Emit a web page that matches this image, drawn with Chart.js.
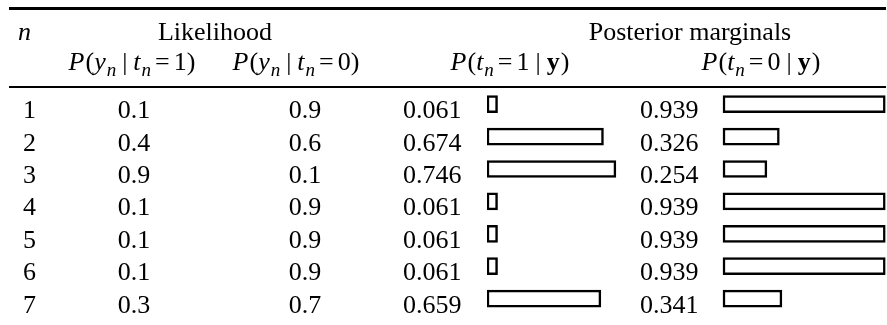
<!DOCTYPE html>
<html>
<head>
<meta charset="utf-8">
<script src="https://cdn.jsdelivr.net/npm/chart.js@4.4.1/dist/chart.umd.min.js"></script>
<style>
  html, body { margin: 0; padding: 0; background: #fff; }
  canvas { display: block; }
</style>
</head>
<body>
<canvas id="chart" width="887" height="325"></canvas>
<script>
// table data
const rows = ['1', '2', '3', '4', '5', '6', '7']
const likeT1 = [0.1, 0.4, 0.9, 0.1, 0.1, 0.1, 0.3]
const likeT0 = [0.9, 0.6, 0.1, 0.9, 0.9, 0.9, 0.7]
const postT1 = [0.061, 0.674, 0.746, 0.061, 0.061, 0.061, 0.659]
const postT0 = [0.939, 0.326, 0.254, 0.939, 0.939, 0.939, 0.341]

// layout
const W = 887
const PX = 172.8            // pixels per unit of probability
const barLeft1 = 487
const barLeft2 = 723
const FONT = '"Liberation Serif", "Times New Roman", serif'
const SIZE = 26
const SUB = 19

function font(style, size) {
  if (style === 'i') return `italic ${size}px ${FONT}`
  if (style === 'b') return `bold ${size}px ${FONT}`
  return `${size}px ${FONT}`
}

// a run of text pieces: {t, f: 'r'|'i'|'b', sub} or {g: gap}
function runWidth(ctx, parts) {
  let w = 0
  parts.forEach(p => {
    if (p.g) { w += p.g; return }
    ctx.font = font(p.f, p.sub ? SUB : SIZE)
    w += ctx.measureText(p.t).width
  })
  return w
}

function drawRun(ctx, parts, x, y, align) {
  let cx = align === 'center' ? x - runWidth(ctx, parts) / 2 : x
  ctx.textAlign = 'left'
  parts.forEach(p => {
    if (p.g) { cx += p.g; return }
    ctx.font = font(p.f, p.sub ? SUB : SIZE)
    ctx.fillText(p.t, cx, p.sub ? y + 6 : y)
    cx += ctx.measureText(p.t).width
  })
}

const likeHead = (v) => [
  { t: 'P', f: 'i' }, { g: 1 }, { t: '(', f: 'r' }, { t: 'y', f: 'i' }, { g: 1 }, { t: 'n', f: 'i', sub: true },
  { g: 6 }, { t: '|', f: 'r' }, { g: 6 },
  { t: 't', f: 'i' }, { g: 1 }, { t: 'n', f: 'i', sub: true }, { g: 4 }, { t: '=', f: 'r' }, { g: 4 },
  { t: v, f: 'r' }, { t: ')', f: 'r' }
]
const postHead = (v) => [
  { t: 'P', f: 'i' }, { g: 1 }, { t: '(', f: 'r' }, { t: 't', f: 'i' }, { g: 1 }, { t: 'n', f: 'i', sub: true },
  { g: 4 }, { t: '=', f: 'r' }, { g: 4 }, { t: v, f: 'r' },
  { g: 6 }, { t: '|', f: 'r' }, { g: 6 }, { t: 'y', f: 'b' }, { g: 1 }, { t: ')', f: 'r' }
]

const tablePlugin = {
  id: 'table',
  afterDraw(chart) {
    const ctx = chart.ctx
    const y = chart.scales.y
    ctx.save()
    ctx.fillStyle = '#000'
    ctx.textBaseline = 'alphabetic'

    // rules
    ctx.fillRect(9, 7, 877, 3)
    ctx.fillRect(9, 86, 877, 2)

    // header line 1
    drawRun(ctx, [{ t: 'n', f: 'i' }], 18, 40, 'left')
    drawRun(ctx, [{ t: 'Likelihood', f: 'r' }], 215, 40, 'center')
    drawRun(ctx, [{ t: 'Posterior marginals', f: 'r' }], 690, 40, 'center')

    // header line 2
    drawRun(ctx, likeHead('1'), 132, 70, 'center')
    drawRun(ctx, likeHead('0'), 296, 70, 'center')
    drawRun(ctx, postHead('1'), 510, 70, 'center')
    drawRun(ctx, postHead('0'), 761, 70, 'center')

    // body
    ctx.font = font('r', SIZE)
    rows.forEach((r, i) => {
      const base = y.getPixelForValue(i) + 14
      ctx.textAlign = 'left'
      ctx.fillText(r, 23, base)
      ctx.textAlign = 'center'
      ctx.fillText(likeT1[i].toFixed(1), 134, base)
      ctx.fillText(likeT0[i].toFixed(1), 305, base)
      ctx.textAlign = 'left'
      ctx.fillText(postT1[i].toFixed(3), 403, base)
      ctx.fillText(postT0[i].toFixed(3), 640, base)
    })
    ctx.restore()
  }
}

const barStyle = {
  backgroundColor: '#fff',
  borderColor: '#000',
  borderWidth: 2.5,
  borderSkipped: false,
  barThickness: 17,
  grouped: false
}

new Chart(document.getElementById('chart'), {
  type: 'bar',
  data: {
    labels: rows,
    datasets: [
      { label: 'P(t=1|y)', data: postT1, xAxisID: 'x1', ...barStyle },
      { label: 'P(t=0|y)', data: postT0, xAxisID: 'x2', ...barStyle }
    ]
  },
  options: {
    indexAxis: 'y',
    responsive: false,
    animation: false,
    layout: { padding: { left: barLeft1, right: 0, top: 88, bottom: 10.2 } },
    plugins: { legend: { display: false }, tooltip: { enabled: false } },
    scales: {
      x1: { type: 'linear', position: 'bottom', display: false, min: 0, max: (W - barLeft1) / PX },
      x2: { type: 'linear', position: 'bottom', display: false,
            min: -(barLeft2 - barLeft1) / PX, max: (W - barLeft2) / PX },
      y: { display: false }
    }
  },
  plugins: [tablePlugin]
})
</script>
</body>
</html>
